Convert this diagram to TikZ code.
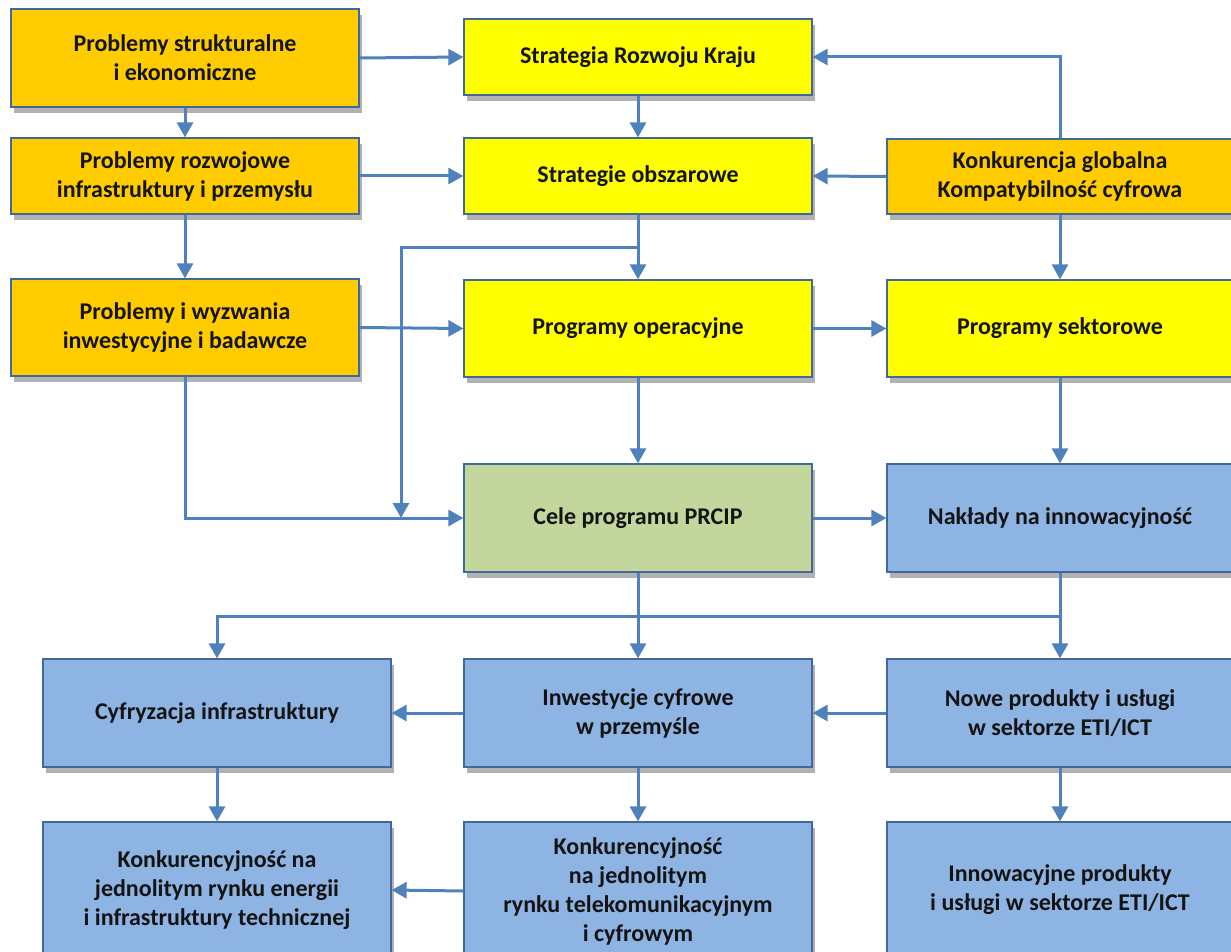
\documentclass[tikz,border=0pt]{standalone}
\usepackage{fontspec}
\setmainfont{Carlito}
\usetikzlibrary{arrows.meta,shadows}
\definecolor{orng}{HTML}{FFCC00}
\definecolor{yel}{HTML}{FFFF00}
\definecolor{grn}{HTML}{C3D69B}
\definecolor{blu}{HTML}{8EB4E3}
\definecolor{bord}{HTML}{41689E}
\definecolor{arrc}{HTML}{4F81BD}
\definecolor{txt}{HTML}{141414}
\tikzset{
  box/.style={draw=bord, line width=1.3pt, minimum width=348pt, inner sep=0pt,
    align=center, text=txt, font=\fontsize{24}{29}\selectfont\bfseries,
    drop shadow={shadow xshift=3pt, shadow yshift=-6pt, opacity=0.3, fill=black}},
  obox/.style={box, fill=orng},
  ybox/.style={box, fill=yel},
  gbox/.style={box, fill=grn},
  bbox/.style={box, fill=blu},
  arr/.style={draw=arrc, line width=3pt, -{Triangle[length=15pt,width=16pt]}}
}
\begin{document}
\begin{tikzpicture}[x=1pt,y=-1pt]
\path[use as bounding box] (0,0) rectangle (1231,952);
\clip (0,0) rectangle (1231,952);
\fill[white] (0,0) rectangle (1231,952);
% left column
\node[obox, minimum height=98pt] (B1) at (185,58) {Problemy strukturalne\\i ekonomiczne};
\node[obox, minimum height=76pt] (B2) at (185,176) {Problemy rozwojowe\\infrastruktury i przemysłu};
\node[obox, minimum height=97pt] (B3) at (185,327.5) {Problemy i wyzwania\\inwestycyjne i badawcze};
% middle column
\node[ybox, minimum height=76pt] (Strat) at (638,57) {Strategia Rozwoju Kraju};
\node[ybox, minimum height=76pt] (Obsz) at (638,176) {Strategie obszarowe};
\node[ybox, minimum height=97pt] (Oper) at (638,328.5) {Programy operacyjne};
\node[gbox, minimum height=108pt] (Cele) at (638,518) {Cele programu PRCIP};
% right column
\node[obox, minimum width=346pt, minimum height=75pt] (Konk) at (1060,176.5) {Konkurencja globalna\\Kompatybilność cyfrowa};
\node[ybox, minimum width=346pt, minimum height=97pt] (Sekt) at (1060,328.5) {Programy sektorowe};
\node[bbox, minimum width=346pt, minimum height=108pt] (Nakl) at (1060,518) {Nakłady na innowacyjność};
% lower rows
\node[bbox, minimum height=108pt] (Cyf) at (217,713) {Cyfryzacja infrastruktury};
\node[bbox, minimum height=108pt] (Inw) at (638,713) {Inwestycje cyfrowe\\w przemyśle};
\node[bbox, minimum width=346pt, minimum height=108pt] (Nowe) at (1060,713) {Nowe produkty i usługi\\w sektorze ETI/ICT};
\node[bbox, minimum height=136pt] (KE) at (217,890) {Konkurencyjność na\\jednolitym rynku energii\\i infrastruktury technicznej};
\node[bbox, minimum height=138pt] (KT) at (638,891) {Konkurencyjność\\na jednolitym\\rynku telekomunikacyjnym\\i cyfrowym};
\node[bbox, minimum width=346pt, minimum height=136pt] (Inno) at (1060,890) {Innowacyjne produkty\\i usługi w sektorze ETI/ICT};
% junctions
\coordinate (j1) at (638,247);
\coordinate (jb) at (401,518);
\coordinate (j2) at (1060,616);
% connectors
\draw[arr] (B1.east) -- (Strat.west);
\draw[arr] (B1.south) -- (B2.north);
\draw[arr] (B2.east) -- (Obsz.west);
\draw[arr] (B2.south) -- (B3.north);
\draw[arr] (B3.east) -- (Oper.west);
\draw[arr] (B3.south) |- (Cele.west);
\draw[arr] (Strat.south) -- (Obsz.north);
\draw[arr] (Obsz.south) -- (Oper.north);
\draw[arr] (j1) -| (jb);
\draw[arr] (Oper.south) -- (Cele.north);
\draw[arr] (Oper.east) -- (Sekt.west);
\draw[arr] (Konk.north) |- (Strat.east);
\draw[arr] (Konk.west) -- (Obsz.east);
\draw[arr] (Konk.south) -- (Sekt.north);
\draw[arr] (Sekt.south) -- (Nakl.north);
\draw[arr] (Cele.east) -- (Nakl.west);
\draw[arr] (Cele.south) -- (Inw.north);
\draw[arr] (Nakl.south) -- (Nowe.north);
\draw[arr] (j2) -| (Cyf.north);
\draw[arr] (Nowe.west) -- (Inw.east);
\draw[arr] (Inw.west) -- (Cyf.east);
\draw[arr] (Cyf.south) -- (KE.north);
\draw[arr] (Inw.south) -- (KT.north);
\draw[arr] (KT.west) -- (KE.east);
\draw[arr] (Nowe.south) -- (Inno.north);
\end{tikzpicture}
\end{document}
